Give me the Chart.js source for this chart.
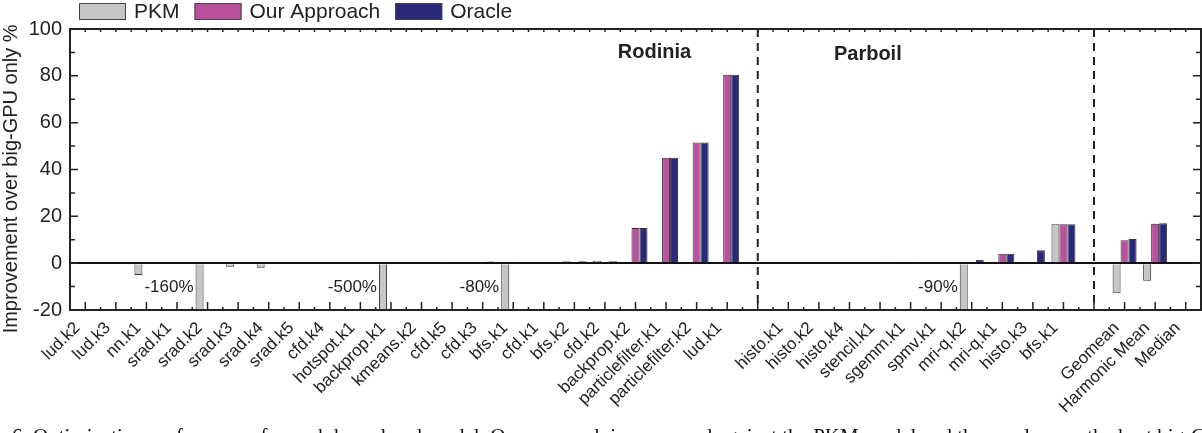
<!DOCTYPE html>
<html>
<head>
<meta charset="utf-8">
<script src="https://cdn.jsdelivr.net/npm/chart.js@4.4.0/dist/chart.umd.min.js"></script>
<style>
  html, body { margin: 0; padding: 0; background: #fff; overflow: hidden; }
  #wrap { width: 1202px; height: 433px; }
</style>
</head>
<body>
<div id="wrap"><canvas id="myChart" width="1202" height="433"></canvas></div>
<script>
// categories
const rodiniaLabels = ['lud.k2', 'lud.k3', 'nn.k1', 'srad.k1', 'srad.k2', 'srad.k3', 'srad.k4', 'srad.k5',
    'cfd.k4', 'hotspot.k1', 'backprop.k1', 'kmeans.k2', 'cfd.k5', 'cfd.k3', 'bfs.k1', 'cfd.k1', 'bfs.k2',
    'cfd.k2', 'backprop.k2', 'particlefilter.k1', 'particlefilter.k2', 'lud.k1'];
const parboilLabels = ['histo.k1', 'histo.k2', 'histo.k4', 'stencil.k1', 'sgemm.k1', 'spmv.k1', 'mri-q.k2',
    'mri-q.k1', 'histo.k3', 'bfs.k1'];
const summaryLabels = ['Geomean', 'Harmonic Mean', 'Median'];

// values (%), bars below -20 are cut at the axis and labelled
const rodiniaPKM    = [0, 0, -5, 0, -160, -1.5, -2, 0, 0, 0, -500, 0, 0.5, 0, -80, 0, 0.8, 1, 0, 0, 0, 0];
const rodiniaOurs   = [0, 0, 0, 0, 0, 0, 0, 0, 0, 0, 0, 0, 0, 0, 0.5, 0, 0, 0, 15, 45, 51.5, 80.5];
const rodiniaOracle = [0, 0, 0, 0, 0, 0, 0, 0, 0, 0, 0, 0, 0.4, 0.7, 0.5, 0.6, 0.8, 0.8, 15, 45, 51.5, 80.5];

const parboilPKM    = [0, -0.5, 0, 0, 0, 0, -90, 0, 0, 16.6];
const parboilOurs   = [0, 0, 0, 0, 0, 0.3, 0, 4, 0, 16.6];
const parboilOracle = [0, 0, 0, 0.2, 0.2, 0.3, 1.5, 4, 5.5, 16.6];

const summaryPKM    = [-12.8, -7.5, 0];
const summaryOurs   = [9.8, 16.8, 0];
const summaryOracle = [10.3, 17, 0];

const yTicks = [-20, 0, 20, 40, 60, 80, 100];
const yMin = -20, yMax = 100;
const yTitle = 'Improvement over big-GPU only %';

const captionText = '6. Optimization performance for each kernel and model. Our approach is compared against the PKM model and the oracle over the best big-GPU only setting. We d';

// one empty slot between the suites, where the dashed line goes
const labels = [...rodiniaLabels, '', ...parboilLabels, '', ...summaryLabels];
const join = (a, b, c) => [...a, null, ...b, null, ...c];

Chart.defaults.font.family = '"Liberation Sans", Arial, sans-serif';
Chart.defaults.color = '#222';

const framePlugin = {
    id: 'frame',
    afterDatasetsDraw(chart) {
        const { ctx, chartArea: a, scales: { x, y } } = chart;
        const step = (a.right - a.left) / labels.length;
        ctx.save();
        ctx.strokeStyle = '#222';
        ctx.lineWidth = 1.5;
        ctx.beginPath();
        for (let v = yMin; v <= yMax; v += 10) {
            const py = y.getPixelForValue(v);
            const len = v % 20 === 0 ? 8 : 5;
            ctx.moveTo(a.left, py); ctx.lineTo(a.left + len, py);
            ctx.moveTo(a.right, py); ctx.lineTo(a.right - len, py);
        }
        for (let i = 0; i < labels.length; i++) {
            const px = x.getPixelForValue(i);
            ctx.moveTo(px, a.bottom); ctx.lineTo(px, a.bottom - 8);
            ctx.moveTo(px, a.top); ctx.lineTo(px, a.top + 3);
            const bx = px + step / 2;
            ctx.moveTo(bx, a.bottom); ctx.lineTo(bx, a.bottom - 3);
            ctx.moveTo(bx, a.top); ctx.lineTo(bx, a.top + 3);
        }
        ctx.stroke();

        ctx.lineWidth = 2;
        ctx.strokeRect(a.left, a.top, a.right - a.left, a.bottom - a.top);

        // dashed separators on the empty slots
        ctx.setLineDash([8, 6]);
        ctx.beginPath();
        labels.forEach((l, i) => {
            if (l !== '') return;
            const px = x.getPixelForValue(i);
            ctx.moveTo(px, a.top); ctx.lineTo(px, a.bottom);
        });
        ctx.stroke();
        ctx.restore();
    }
};

const notesPlugin = {
    id: 'notes',
    afterDraw(chart) {
        const { ctx, scales: { x, y } } = chart;
        ctx.save();
        ctx.fillStyle = '#222';

        // suite names
        ctx.font = 'bold 20px "Liberation Sans", Arial, sans-serif';
        ctx.textAlign = 'center';
        ctx.textBaseline = 'middle';
        ctx.fillText('Rodinia', x.getPixelForValue(18.62), y.getPixelForValue(90));
        ctx.fillText('Parboil', x.getPixelForValue(25.6), y.getPixelForValue(89));

        // axis title, a little below the middle of the axis as in the original
        ctx.save();
        ctx.font = '20px "Liberation Sans", Arial, sans-serif';
        ctx.translate(11, y.getPixelForValue(36));
        ctx.rotate(-Math.PI / 2);
        ctx.fillText(yTitle, 0, 0);
        ctx.restore();

        // values of the cut bars
        ctx.font = '17px "Liberation Sans", Arial, sans-serif';
        ctx.textAlign = 'right';
        const pkm = chart.data.datasets[0].data;
        const meta = chart.getDatasetMeta(0);
        pkm.forEach((v, i) => {
            if (v === null || v >= yMin) return;
            const bar = meta.data[i];
            ctx.fillText(v + '%', bar.x - bar.width / 2 - 2, y.getPixelForValue(-10.5));
        });

        // legend
        ctx.font = '21px "Liberation Sans", Arial, sans-serif';
        ctx.textAlign = 'left';
        let lx = 79;
        chart.data.datasets.forEach(ds => {
            ctx.fillStyle = ds.backgroundColor;
            ctx.fillRect(lx, 3, 47, 17);
            ctx.strokeStyle = '#444';
            ctx.lineWidth = 1;
            ctx.strokeRect(lx + 0.5, 3.5, 46, 16);
            ctx.fillStyle = '#222';
            ctx.fillText(ds.label, lx + 55, 12);
            lx += 55 + ctx.measureText(ds.label).width + 15;
        });

        // figure caption, cut by the page edge
        ctx.font = '21px "Liberation Serif", "Times New Roman", serif';
        ctx.textBaseline = 'alphabetic';
        ctx.fillStyle = '#111';
        ctx.fillText(captionText, 12, 443);
        ctx.restore();
    }
};

let diagramma = document.getElementById('myChart').getContext('2d');
let myChart = new Chart(diagramma, {
    type: 'bar',
    data: {
        labels: labels,
        datasets: [{
            label: 'PKM',
            data: join(rodiniaPKM, parboilPKM, summaryPKM),
            backgroundColor: '#c6c6c6',
        }, {
            label: 'Our Approach',
            data: join(rodiniaOurs, parboilOurs, summaryOurs),
            backgroundColor: '#bb519e',
        }, {
            label: 'Oracle',
            data: join(rodiniaOracle, parboilOracle, summaryOracle),
            backgroundColor: '#29287a',
        }]
    },
    options: {
        responsive: false,
        animation: false,
        devicePixelRatio: 1,
        datasets: {
            bar: {
                borderColor: '#333',
                borderWidth: 1,
                categoryPercentage: 0.785,
                barPercentage: 1,
            }
        },
        layout: {
            padding: { top: 29, right: 1, bottom: 0, left: 0 }
        },
        plugins: {
            legend: false,
            tooltip: false
        },
        scales: {
            x: {
                grid: { display: false, drawTicks: false },
                border: { display: false },
                ticks: {
                    autoSkip: false,
                    maxRotation: 45,
                    minRotation: 45,
                    padding: 8,
                    labelOffset: -8,
                    font: { size: 17 },
                    color: '#222'
                },
                afterFit: (scale) => {
                    scale.height = 123;
                    scale.paddingLeft = 0;
                    scale.paddingRight = 0;
                }
            },
            y: {
                min: yMin,
                max: yMax,
                afterBuildTicks: (scale) => { scale.ticks = yTicks.map(v => ({ value: v })); },
                grid: {
                    drawTicks: false,
                    color: (c) => c.tick && c.tick.value === 0 ? '#111' : 'rgba(0,0,0,0)',
                    lineWidth: 2
                },
                border: { display: false },
                ticks: {
                    padding: 8,
                    font: { size: 20 },
                    color: '#222'
                },
                afterFit: (scale) => { scale.width = 70; }
            }
        }
    },
    plugins: [framePlugin, notesPlugin]
});
</script>
</body>
</html>
